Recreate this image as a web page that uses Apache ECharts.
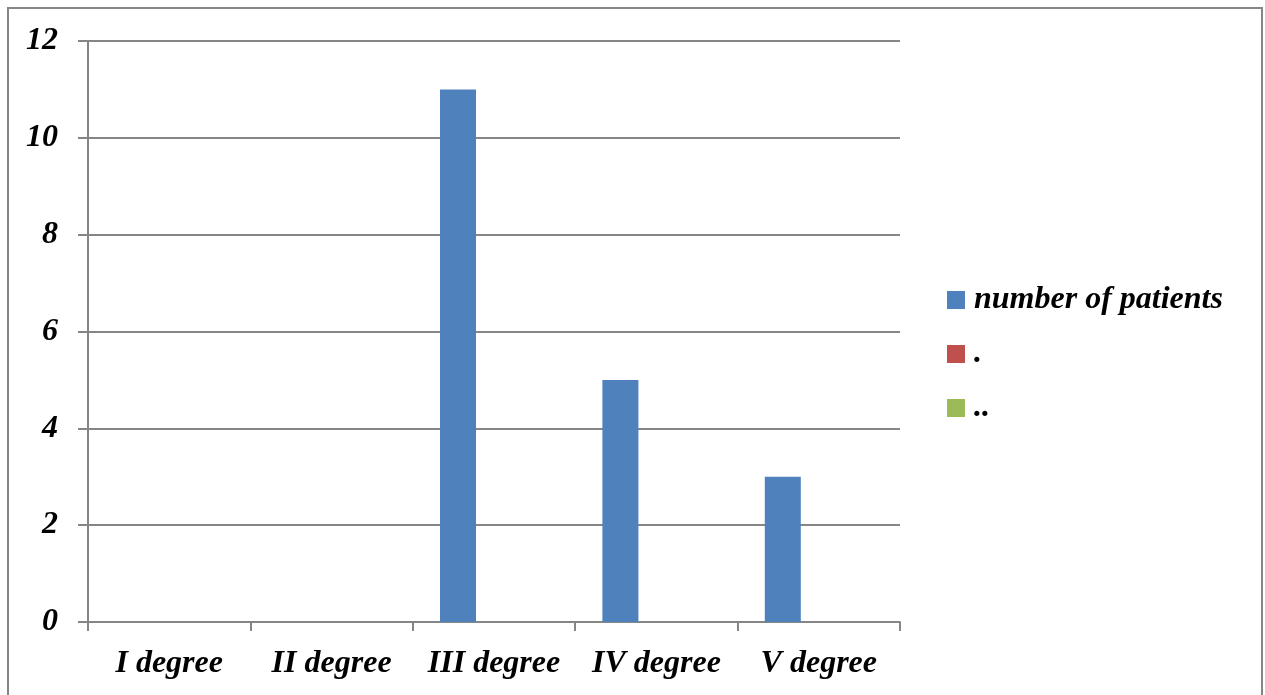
<!DOCTYPE html>
<html>
<head>
<meta charset="utf-8">
<script src="https://cdn.jsdelivr.net/npm/echarts@6/dist/echarts.min.js"></script>
<style>
html,body{margin:0;padding:0;background:#fff;}
#chart{width:1265px;height:695px;}
</style>
</head>
<body>
<div id="chart"></div>
<script>
const categories = ['I degree', 'II degree', 'III degree', 'IV degree', 'V degree'];
const seriesNames = ['number of patients', '.', '..'];
const patients = [null, null, 11, 5, 3];
const series2 = [null, null, null, null, null];
const series3 = [null, null, null, null, null];
const yTicks = [0, 2, 4, 6, 8, 10, 12];

const FONT = '"Liberation Serif", serif';
const chart = echarts.init(document.getElementById('chart'));
const labelStyle = {fontFamily: FONT, fontStyle: 'italic', fontWeight: 'bold', fontSize: 32, lineHeight: 32, color: '#000'};
chart.setOption({
  animation: false,
  color: ['#4F81BD', '#C0504D', '#9BBB59'],
  graphic: [{
    type: 'rect',
    shape: {x: 8, y: 8, width: 1254, height: 720},
    style: {fill: 'none', stroke: '#868686', lineWidth: 2}
  }],
  grid: {left: 88, top: 41, right: 365, bottom: 73},
  legend: {
    orient: 'vertical', left: 942, top: 279,
    icon: 'rect', itemWidth: 18, itemHeight: 18, itemGap: 22,
    data: seriesNames,
    textStyle: Object.assign({}, labelStyle, {padding: [0, 0, 0, 4]})
  },
  xAxis: {
    type: 'category', data: categories,
    axisLine: {lineStyle: {color: '#868686', width: 2}},
    axisTick: {show: true, interval: 0, length: 9, lineStyle: {color: '#868686', width: 2}},
    axisLabel: Object.assign({margin: 26, interval: 0}, labelStyle)
  },
  yAxis: {
    type: 'value', min: yTicks[0], max: yTicks[yTicks.length - 1], interval: 2,
    axisLine: {show: true, lineStyle: {color: '#868686', width: 2}},
    axisTick: {show: true, length: 10, lineStyle: {color: '#868686', width: 2}},
    splitLine: {lineStyle: {color: '#868686', width: 2}},
    axisLabel: Object.assign({margin: 30}, labelStyle)
  },
  series: [
    {name: seriesNames[0], type: 'bar', data: patients, barWidth: 36, barGap: '0%'},
    {name: seriesNames[1], type: 'bar', data: series2, barWidth: 36, barGap: '0%'},
    {name: seriesNames[2], type: 'bar', data: series3, barWidth: 36, barGap: '0%'}
  ]
});
</script>
</body>
</html>
